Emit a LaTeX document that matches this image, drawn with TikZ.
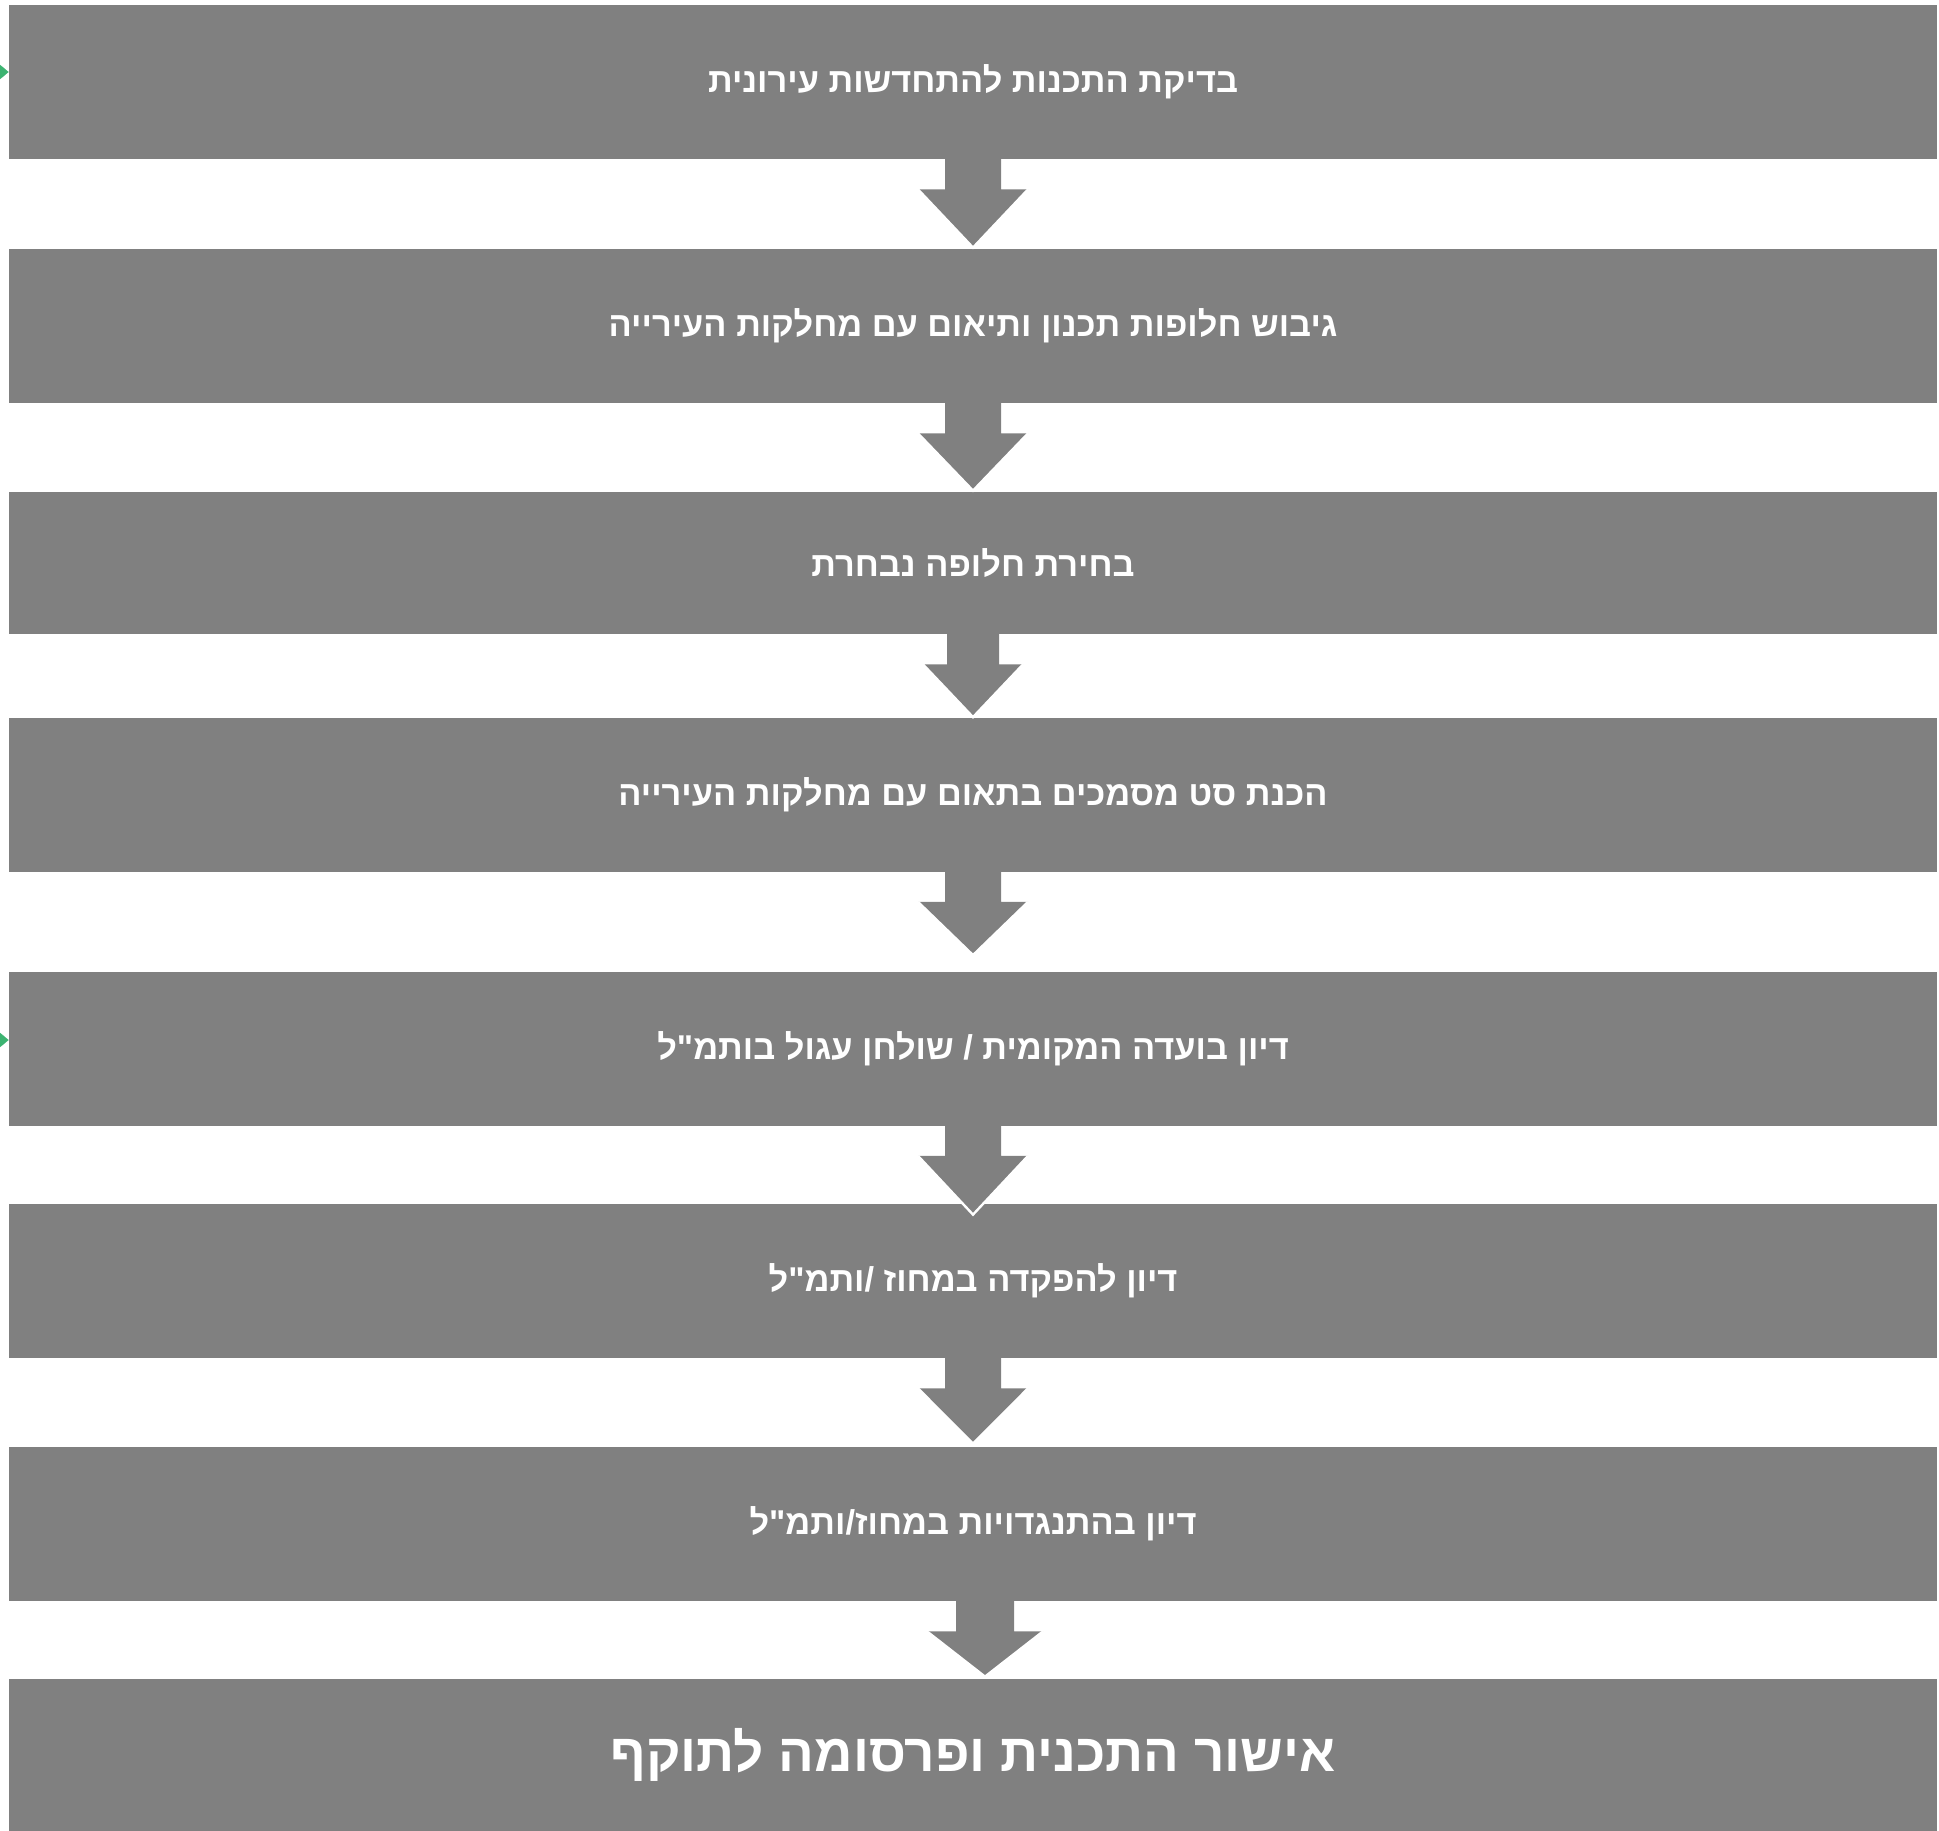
\documentclass[tikz,border=0pt]{standalone}
\usepackage{fontspec}
\newfontfamily\hebfont[Script=Hebrew]{Liberation Sans}
\TeXXeTstate=1
\usetikzlibrary{calc, arrows.meta}

\definecolor{boxgray}{RGB}{128,128,128}
\definecolor{tipgreen}{RGB}{60,179,113}

\tikzset{
  stepbox/.style={fill=boxgray, text=white, minimum width=964pt, minimum height=77pt,
    inner sep=0pt, font=\hebfont\bfseries\fontsize{17.2}{20}\selectfont},
  lastbox/.style={stepbox, font=\hebfont\bfseries\fontsize{26.5}{30}\selectfont},
  greentip/.style={tipgreen, line width=0.1pt, -{Triangle[length=4.5pt, width=7.5pt]}}
}

% block arrow: [x shift]{from}{to}{tip offset}{shaft half}{head half}
\newcommand{\flowarrow}[6][0]{%
  \fill[boxgray] ($(#2.south)+(#1-#5,-1)$) -- ($(#2.south)+(#1-#5,30)$)
    -- ($(#2.south)+(#1-#6,30)$) -- ($(#3.north)+(#1,#4)$)
    -- ($(#2.south)+(#1+#6,30)$) -- ($(#2.south)+(#1+#5,30)$)
    -- ($(#2.south)+(#1+#5,-1)$) -- cycle;
  \draw[white, line width=1.2pt] ($(#2.south)+(#1-#6,30)$) -- ($(#3.north)+(#1,#4)$)
    -- ($(#2.south)+(#1+#6,30)$);
}

\begin{document}
\begin{tikzpicture}[x=0.5pt, y=-0.5pt]
  \useasboundingbox (0,0) rectangle (1939,1831);

  % שלבים
  \node[stepbox] (b1) at (973,82) {\beginR בדיקת התכנות להתחדשות עירונית\endR};
  \node[stepbox] (b2) at (973,326) {\beginR גיבוש חלופות תכנון ותיאום עם מחלקות העירייה\endR};
  \node[stepbox, minimum height=71pt] (b3) at (973,563) {\beginR בחירת חלופה נבחרת\endR};
  \node[stepbox] (b4) at (973,794.5) {\beginR הכנת סט מסמכים בתאום עם מחלקות העירייה\endR};
  \node[stepbox] (b5) at (973,1048.5) {\beginR דיון בועדה המקומית / שולחן עגול בותמ"ל\endR};
  \node[stepbox] (b6) at (973,1281) {\beginR דיון להפקדה במחוז /ותמ"ל\endR};
  \node[stepbox] (b7) at (973,1524) {\beginR דיון בהתנגדויות במחוז/ותמ"ל\endR};
  \node[lastbox, minimum height=76pt] (b8) at (973,1755) {\raisebox{-3pt}{\beginR אישור התכנית ופרסומה לתוקף\endR}};

  % חיצים
  \flowarrow{b1}{b2}{-1}{28}{55}
  \flowarrow{b2}{b3}{-1}{28}{55}
  \flowarrow{b3}{b4}{0}{26}{50}
  \flowarrow{b4}{b5}{-16}{28}{55}
  \flowarrow{b5}{b6}{11}{28}{55}
  \flowarrow{b6}{b7}{-3}{28}{55}
  \flowarrow[12]{b7}{b8}{-2}{29}{58}

  % כניסות ירוקות
  \coordinate (in1) at (0,72);
  \coordinate (in5) at (0,1040);
  \draw[greentip] (in1) -- (b1.west |- in1);
  \draw[greentip] (in5) -- (b5.west |- in5);
\end{tikzpicture}
\end{document}
